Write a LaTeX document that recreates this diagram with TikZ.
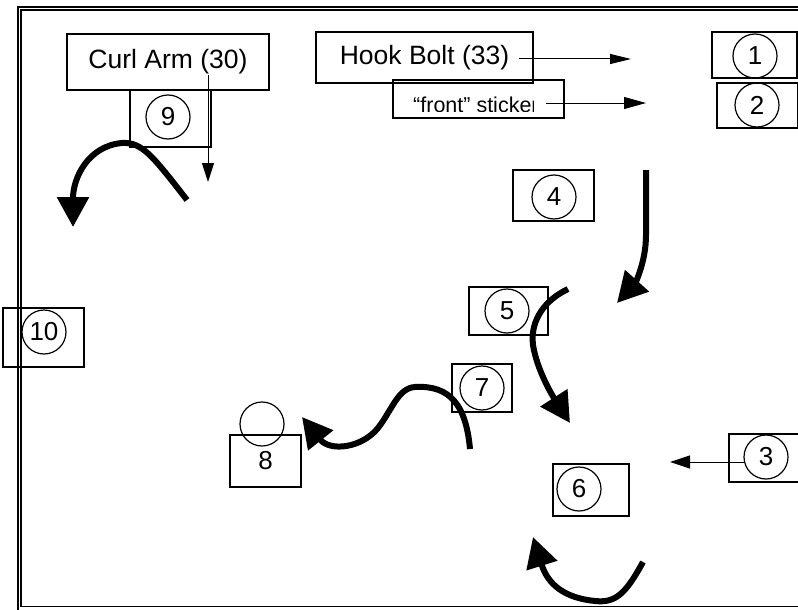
\documentclass[tikz,border=0pt]{standalone}
\usepackage{fontspec}
\setmainfont{Liberation Sans}
\usetikzlibrary{arrows.meta}

\begin{document}
\begin{tikzpicture}[x=1pt,y=-1pt]
						\tikzstyle{part}=[draw=black,line width=1.3pt,inner sep=0pt]
						\tikzstyle{tag}=[part,font=\fontsize{26.5}{31}\selectfont]
						\tikzstyle{num}=[circle,draw=black,line width=1.2pt,minimum size=44pt,inner sep=0pt,font=\fontsize{26}{30}\selectfont]
						\tikzstyle{lead}=[line width=1pt]
						\tikzstyle{move}=[line width=6pt,-{Triangle[length=30pt,width=31pt]}]
						\useasboundingbox (0,0) rectangle (798,610);
						\clip (0,0) rectangle (798,610);
						% frame
						\draw[line width=2pt] (18,615) -- (18,7) -- (805,7);
						\draw[line width=1.2pt] (805,10) -- (21,10) -- (21,606.5) -- (805,606.5);
						% labels
						\node[tag,minimum width=202pt,minimum height=56pt](curl) at (168,62) {Curl Arm (30)};
						\node[tag,minimum width=217pt,minimum height=51pt](hook) at (424.5,57.5) {Hook Bolt (33)};
						\node[part,minimum width=171pt,minimum height=38pt](front) at (478.5,99) {};
						\begin{scope}
							\clip (393,80) rectangle (533.5,111.5);
							\node[anchor=base west,inner sep=0pt,font=\fontsize{21.5}{25}\selectfont](fronttext) at (413,113) {“front” sticker};
						\end{scope}
						% boxes
						\node[part,minimum width=85pt,minimum height=46pt](b1) at (754.5,55) {};
						\node[part,minimum width=81pt,minimum height=45pt](b2) at (757.5,105.5) {};
						\node[part,minimum width=81pt,minimum height=48pt](b3) at (769.5,458) {};
						\node[part,minimum width=81pt,minimum height=51pt](b4) at (553.5,195.5) {};
						\node[part,minimum width=79pt,minimum height=48pt](b5) at (508.5,311) {};
						\node[part,minimum width=76pt,minimum height=52pt](b6) at (591,490) {};
						\node[part,minimum width=60pt,minimum height=48pt](b7) at (482,388) {};
						\node[part,minimum width=71pt,minimum height=52pt,font=\fontsize{26}{30}\selectfont](b8) at (265.5,461) {8};
						\node[part,minimum width=81pt,minimum height=57pt](b9) at (170.5,118.5) {};
						\node[part,minimum width=81pt,minimum height=59pt](b10) at (43.5,337.5) {};
						% numbers
						\node[num](c1) at (755,56) {1};
						\node[num](c2) at (757,105) {2};
						\node[num](c3) at (766,457) {3};
						\node[num](c4) at (554,197) {4};
						\node[num](c5) at (507,311) {5};
						\node[num](c6) at (579,489) {6};
						\node[num](c7) at (482,388) {7};
						\node[num](c8) at (262,424) {};
						\node[num](c9) at (168,117) {9};
						\node[num](c10) at (44,332) {10};
						% thin leads
						\coordinate (curlout) at (208,75);
						\coordinate (curlend) at (208,182);
						\coordinate (hookout) at (519,59);
						\coordinate (hookend) at (631,59);
						\coordinate (frontout) at (546,103);
						\coordinate (frontend) at (646,103);
						\coordinate (c3out) at (744,462);
						\coordinate (c3end) at (670,462);
						\draw[lead,-{Triangle[length=19pt,width=12pt]}](curlout) -- (curlend);
						\draw[lead,-{Triangle[length=21pt,width=10pt]}](hookout) -- (hookend);
						\draw[lead,-{Triangle[length=22pt,width=12pt]}](frontout) -- (frontend);
						\draw[lead,-{Triangle[length=20pt,width=13pt]}](c3out) -- (c3end);
						% thick moves
						\coordinate (m9a) at (187,200);
						\coordinate (m9b) at (73,227);
						\coordinate (m4a) at (646,170);
						\coordinate (m4b) at (617,303);
						\coordinate (m5a) at (568,289);
						\coordinate (m5b) at (570,423);
						\coordinate (m7a) at (470,449);
						\coordinate (m7b) at (302,417);
						\coordinate (m6a) at (643,562);
						\coordinate (m6b) at (533,537);
						\draw[move](m9a) .. controls (152,155) and (142,142) .. (122,143) .. controls (88,146) and (73,178) .. (m9b);
						\draw[move](m4a) -- (646,235) .. controls (646,262) and (635,283) .. (m4b);
						\draw[move](m5a) .. controls (545,300) and (530,320) .. (533,345) .. controls (537,370) and (552,395) .. (m5b);
						\draw[move](m7a) .. controls (466,405) and (450,385) .. (415,387) .. controls (398,388) and (392,410) .. (378,428) .. controls (362,448) and (330,452) .. (m7b);
						\draw[move](m6a) .. controls (625,595) and (615,603) .. (595,601) .. controls (565,598) and (548,585) .. (m6b);
					\end{tikzpicture}
\end{document}
